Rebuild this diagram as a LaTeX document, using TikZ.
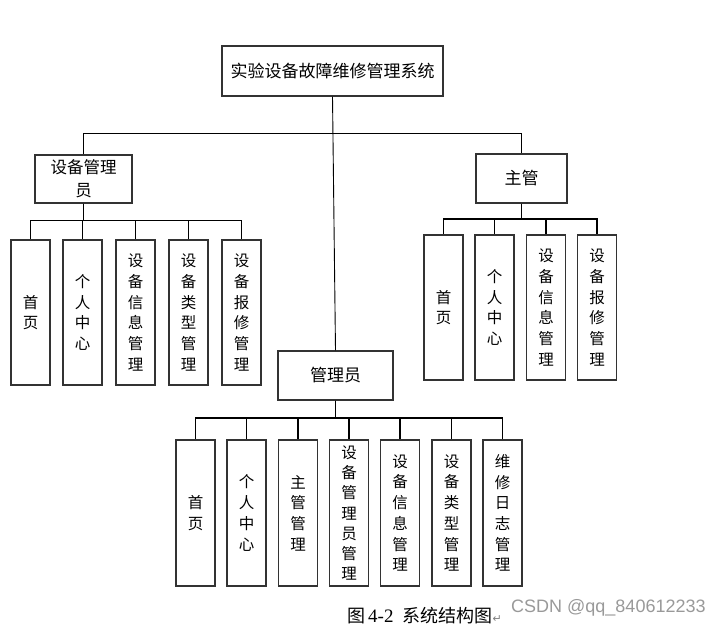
\documentclass[tikz,border=0pt]{standalone}
\usepackage{fontspec}
\newfontfamily\cjk{Noto Sans CJK SC}
\newfontfamily\latinserif{Liberation Serif}
\newfontfamily\latinsans{Liberation Sans}
\newfontfamily\symfont{DejaVu Sans}
\begin{document}
\begin{tikzpicture}[x=1pt,y=-1pt,
  box/.style={draw=black!80,line width=1.1pt,fill=white,inner sep=0pt,align=center},
  headbox/.style={box,font=\cjk\fontsize{17}{23}\selectfont},
  leafbox/.style={box,minimum width=39pt,font=\cjk\fontsize{15.5}{20.7}\selectfont},
  thinlink/.style={draw=black,line width=0.9pt},
  thicklink/.style={draw=black,line width=1.6pt}]
\useasboundingbox (0,0) rectangle (719,628);

% heads
\node[headbox,minimum width=221pt,minimum height=50pt] (top) at (332.5,71) {实验设备故障维修管理系统};
\node[headbox,minimum width=97pt,minimum height=48pt,font=\cjk\fontsize{16.5}{23}\selectfont] (sb) at (83.5,179) {设备管理\\员};
\node[headbox,minimum width=91pt,minimum height=49pt] (zg) at (521.5,178.5) {主管};
\node[headbox,minimum width=115pt,minimum height=49pt] (gl) at (335.5,375.5) {管理员};

% left children
\node[leafbox,minimum height=145pt] (l1) at (30.5,312.5) {首\\页};
\node[leafbox,minimum height=145pt] (l2) at (82.5,312.5) {个\\人\\中\\心};
\node[leafbox,minimum height=145pt] (l3) at (135.5,312.5) {设\\备\\信\\息\\管\\理};
\node[leafbox,minimum height=145pt] (l4) at (188.5,312.5) {设\\备\\类\\型\\管\\理};
\node[leafbox,minimum height=145pt] (l5) at (241.5,312.5) {设\\备\\报\\修\\管\\理};

% right children
\node[leafbox,minimum height=145pt] (r1) at (443.5,307.5) {首\\页};
\node[leafbox,minimum height=145pt] (r2) at (494.5,307.5) {个\\人\\中\\心};
\node[leafbox,minimum height=145pt] (r3) at (546,307.5) {设\\备\\信\\息\\管\\理};
\node[leafbox,minimum height=145pt] (r4) at (597,307.5) {设\\备\\报\\修\\管\\理};

% bottom children
\node[leafbox,minimum height=146pt] (b1) at (195.5,513) {首\\页};
\node[leafbox,minimum height=146pt] (b2) at (246.5,513) {个\\人\\中\\心};
\node[leafbox,minimum height=146pt] (b3) at (298,513) {主\\管\\管\\理};
\node[leafbox,minimum height=146pt,font=\cjk\fontsize{15.5}{20.3}\selectfont] (b4) at (349,513) {设\\备\\管\\理\\员\\管\\理};
\node[leafbox,minimum height=146pt] (b5) at (400,513) {设\\备\\信\\息\\管\\理};
\node[leafbox,minimum height=146pt] (b6) at (451.5,513) {设\\备\\类\\型\\管\\理};
\node[leafbox,minimum height=146pt] (b7) at (502.5,513) {维\\修\\日\\志\\管\\理};

% top level connectors
\draw[thinlink] (sb.north) -- (sb.north |- 0,133) -| (zg.north);
\draw[thinlink] (top.south) -- (gl.north);

% left group
\foreach \c in {l1,l2,l3,l4,l5}
  \draw[thinlink] (sb.south) -- (sb.south |- 0,220) -| (\c.north);
% right group
\foreach \c in {r1,r2,r3,r4}
  \draw[thicklink] (zg.south) -- (zg.south |- 0,219) -| (\c.north);
% bottom group
\foreach \c in {b1,b2,b3,b4,b5,b6,b7}
  \draw[thicklink] (gl.south) -- (gl.south |- 0,418) -| (\c.north);

% caption
\node[anchor=west,inner sep=0pt,font=\cjk\fontsize{18}{20}\selectfont] (cap) at (347,616)
  {图\,{\latinserif\fontsize{19}{20}\selectfont 4-2}\hspace{9pt}系统结构图{\symfont\fontsize{11}{12}\selectfont\color{black!50}↵}};
\node[anchor=west,inner sep=0pt,font=\latinsans\fontsize{18}{20}\selectfont,text=black!40] (wm) at (511,608)
  {CSDN @qq\_840612233};
\end{tikzpicture}
\end{document}
